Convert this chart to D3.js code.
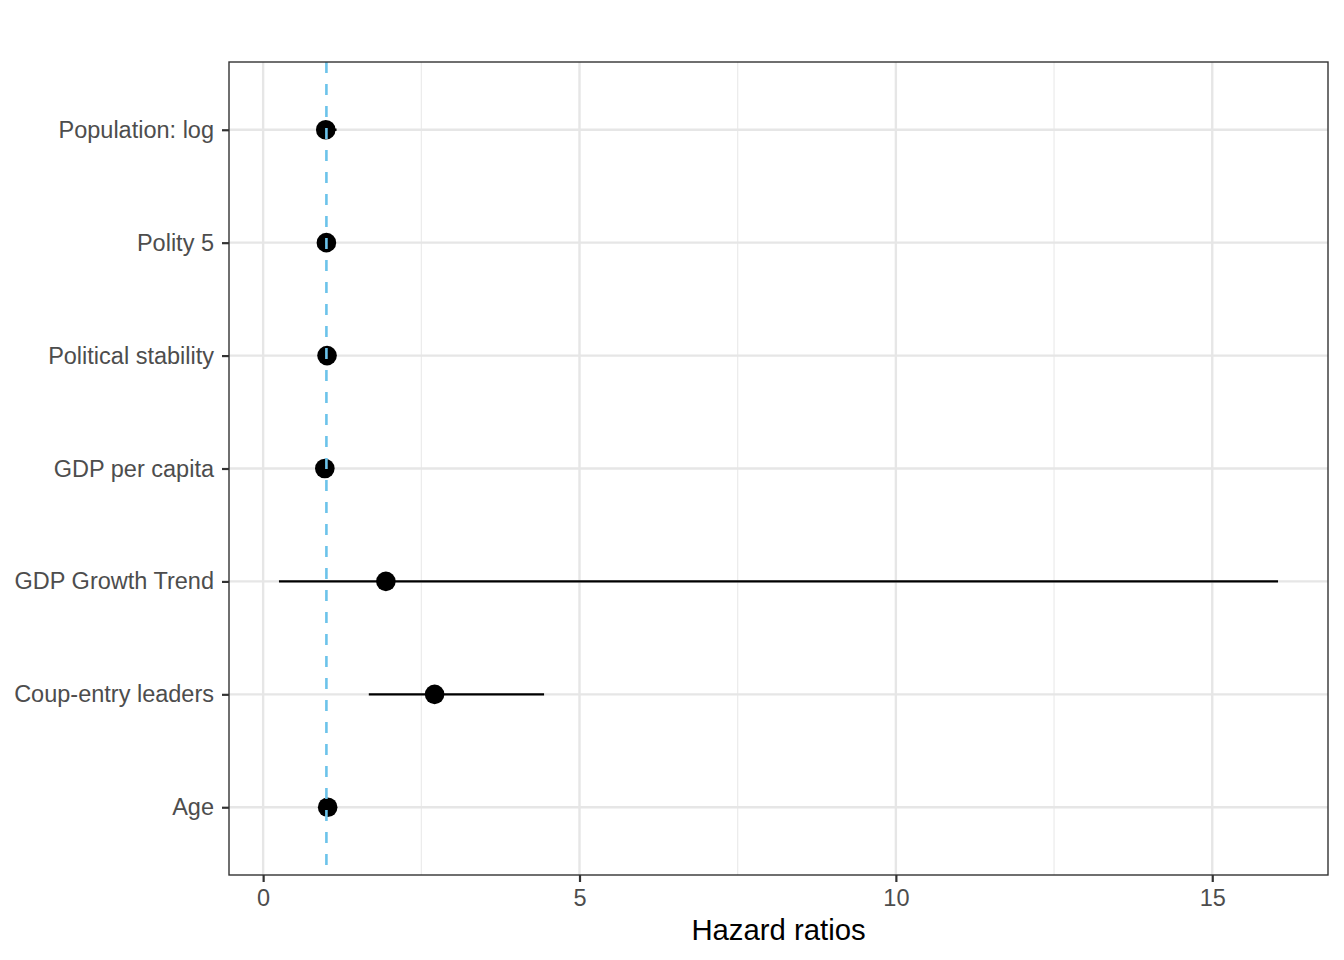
<!DOCTYPE html>
<html>
<head>
<meta charset="utf-8">
<script src="https://cdn.jsdelivr.net/npm/d3@7"></script>
<style>
html,body{margin:0;padding:0;background:#fff;}
svg{display:block;font-family:"Liberation Sans",Arial,Helvetica,sans-serif;}
</style>
</head>
<body>
<svg id="chart" width="1344" height="960"></svg>
<script>
// Data (top = first)
const categories = ["Population: log","Polity 5","Political stability","GDP per capita","GDP Growth Trend","Coup-entry leaders","Age"];
const estimates  = [0.99, 1.00, 1.01, 0.975, 1.94, 2.71, 1.02];
const lowerCI    = [0.88, 0.95, 0.96, 0.93, 0.25, 1.67, 0.98];
const upperCI    = [1.16, 1.05, 1.06, 1.02, 16.04, 4.44, 1.06];
const refLine    = 1;
const xTicks     = [0, 5, 10, 15];
const xMinor     = [2.5, 7.5, 12.5];
const xTitle     = "Hazard ratios";

(function () {
const svg = d3.select("#chart");
const mL = 229, mR = 1328, mT = 62, mB = 875;

const lo = d3.min(lowerCI), hi = d3.max(upperCI);
const pad = (hi - lo) * 0.05;
const x = d3.scaleLinear().domain([lo - pad, hi + pad]).range([mL, mR]);
const y = d3.scalePoint().domain(categories).range([mT, mB]).padding(0.6);

// grid
const g = svg.append("g");
g.selectAll(".minor").data(xMinor).enter().append("line")
  .attr("x1", d => x(d)).attr("x2", d => x(d)).attr("y1", mT).attr("y2", mB)
  .attr("stroke", "#ebebeb").attr("stroke-width", 1.2);
g.selectAll(".major").data(xTicks).enter().append("line")
  .attr("x1", d => x(d)).attr("x2", d => x(d)).attr("y1", mT).attr("y2", mB)
  .attr("stroke", "#e6e6e6").attr("stroke-width", 2.4);
g.selectAll(".hmajor").data(categories).enter().append("line")
  .attr("x1", mL).attr("x2", mR).attr("y1", d => y(d)).attr("y2", d => y(d))
  .attr("stroke", "#e6e6e6").attr("stroke-width", 2.4);

// error bars
const data = categories.map((c, i) => ({c, est: estimates[i], lo: lowerCI[i], hi: upperCI[i]}));
svg.selectAll(".err").data(data).enter().append("line")
  .attr("x1", d => x(d.lo)).attr("x2", d => x(d.hi))
  .attr("y1", d => y(d.c)).attr("y2", d => y(d.c))
  .attr("stroke", "#000").attr("stroke-width", 2.4);

svg.selectAll(".pt").data(data).enter().append("circle")
  .attr("cx", d => x(d.est)).attr("cy", d => y(d.c)).attr("r", 9.8)
  .attr("fill", "#000");

// reference line
svg.append("line")
  .attr("x1", x(refLine)).attr("x2", x(refLine)).attr("y1", mT).attr("y2", mB)
  .attr("stroke", "#6cc3ea").attr("stroke-width", 2.6)
  .attr("stroke-dasharray", "11,11");

// panel border
svg.append("rect").attr("x", mL).attr("y", mT).attr("width", mR - mL).attr("height", mB - mT)
  .attr("fill", "none").attr("stroke", "#333333").attr("stroke-width", 1.4);

// axes
const xAxis = d3.axisBottom(x).tickValues(xTicks).tickSize(7).tickPadding(7).tickFormat(d3.format("d"));
const xa = svg.append("g").attr("transform", `translate(0,${mB})`).call(xAxis);
xa.select(".domain").remove();
xa.selectAll(".tick line").attr("stroke", "#333333").attr("stroke-width", 2.2);
xa.selectAll(".tick text").attr("fill", "#4d4d4d").style("font-size", "23.5px")
  .style("font-family", "'Liberation Sans',Arial,sans-serif");

const yAxis = d3.axisLeft(y).tickSize(7).tickPadding(8);
const ya = svg.append("g").attr("transform", `translate(${mL},0)`).call(yAxis);
ya.select(".domain").remove();
ya.selectAll(".tick line").attr("stroke", "#333333").attr("stroke-width", 2.2);
ya.selectAll(".tick text").attr("fill", "#4d4d4d").style("font-size", "23.5px")
  .style("font-family", "'Liberation Sans',Arial,sans-serif");

svg.append("text").attr("x", (mL + mR) / 2).attr("y", 940)
  .attr("text-anchor", "middle").attr("fill", "#000")
  .style("font-size", "29.3px").text(xTitle);
})();
</script>
</body>
</html>
